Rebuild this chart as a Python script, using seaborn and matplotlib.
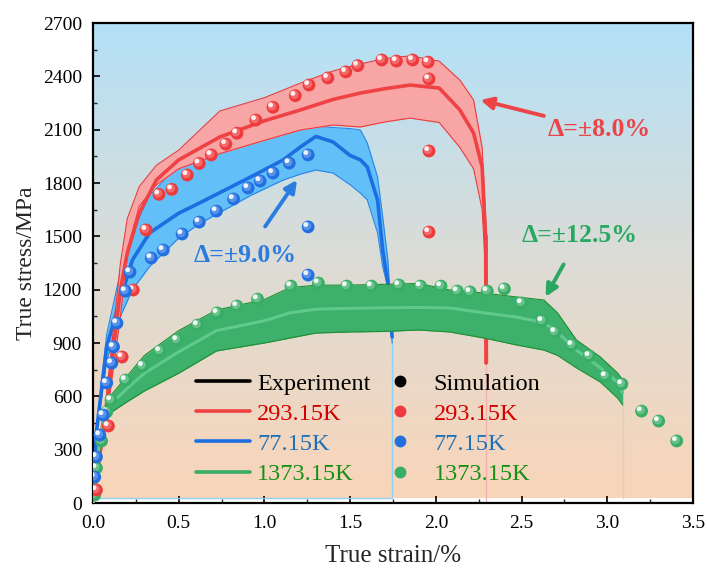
import numpy as np
import pandas as pd
import matplotlib
matplotlib.use("Agg")
import matplotlib.pyplot as plt
import seaborn as sns
from matplotlib.colors import LinearSegmentedColormap
from matplotlib.lines import Line2D
from matplotlib.transforms import ScaledTranslation

# ---------------- data ----------------
# 293.15K experiment (mean curve and band)
red_strain = [0, 0.08, 0.16, 0.2, 0.27, 0.37, 0.5, 0.74, 1.0, 1.21, 1.4, 1.56, 1.7, 1.85, 2.02, 2.14, 2.22, 2.27, 2.29, 2.295]
red_mean = [0, 550, 1200, 1406, 1631, 1817, 1930, 2059, 2150, 2211, 2270, 2306, 2330, 2351, 2334, 2211, 2081, 1890, 1500, 790]
red_upper = [0, 620, 1350, 1600, 1780, 1900, 1985, 2205, 2280, 2362, 2430, 2470, 2500, 2515, 2485, 2379, 2267, 2000, 1600, 790]
red_lower = [0, 480, 1050, 1423, 1670, 1790, 1880, 1965, 2040, 2098, 2126, 2115, 2143, 2165, 2140, 2000, 1880, 1650, 1300, 790]
red_tail_strain = [2.295, 2.295]
red_tail_stress = [790, 0]

# 77.15K experiment
blue_strain = [0, 0.02, 0.08, 0.16, 0.23, 0.33, 0.5, 0.62, 0.92, 1.11, 1.21, 1.3, 1.4, 1.5, 1.56, 1.6, 1.66, 1.69, 1.72, 1.745]
blue_mean = [0, 400, 880, 1150, 1367, 1519, 1630, 1687, 1834, 1930, 2003, 2062, 2031, 1955, 1930, 1890, 1704, 1423, 1237, 934]
blue_upper = [0, 420, 950, 1300, 1520, 1730, 1900, 1960, 2060, 2110, 2120, 2120, 2112, 2106, 2098, 2025, 1834, 1609, 1367, 1000]
blue_lower = [0, 380, 800, 1050, 1200, 1330, 1490, 1570, 1730, 1817, 1850, 1873, 1856, 1790, 1743, 1704, 1519, 1327, 1215, 900]
blue_tail_strain = [1.745, 1.745, 0]
blue_tail_stress = [934, 28, 28]

# 1373.15K experiment
green_strain = [0, 0.03, 0.06, 0.1, 0.2, 0.3, 0.5, 0.72, 1.0, 1.15, 1.3, 1.5, 1.7, 1.9, 2.08, 2.28, 2.47, 2.63, 2.71, 2.82, 2.96, 3.06, 3.09]
green_mean = [0, 285, 450, 553, 645, 730, 850, 970, 1025, 1070, 1090, 1095, 1098, 1100, 1097, 1070, 1046, 1015, 960, 860, 760, 680, 620]
green_upper = [0, 320, 500, 600, 715, 830, 970, 1085, 1145, 1212, 1225, 1226, 1230, 1235, 1198, 1181, 1159, 1142, 1069, 917, 821, 731, 692]
green_lower = [0, 250, 400, 506, 570, 630, 730, 855, 900, 928, 956, 962, 965, 973, 962, 928, 889, 860, 830, 760, 680, 590, 551]
green_tail_strain = [3.09, 3.09]
green_tail_stress = [551, 28]

# Simulation points
red_sim_strain = [0.02, 0.09, 0.17, 0.235, 0.31, 0.385, 0.46, 0.55, 0.62, 0.69, 0.775, 0.84, 0.95, 1.05, 1.18, 1.26, 1.37, 1.475, 1.545,
                  1.685, 1.77, 1.865, 1.955, 1.96, 1.96, 1.96]
red_sim_stress = [73, 433, 821, 1198, 1536, 1736, 1764, 1845, 1910, 1958, 2019, 2080, 2154, 2226, 2291, 2351, 2391, 2425, 2460,
                  2492, 2486, 2492, 2480, 2385, 1980, 1524]
blue_sim_strain = [0.01, 0.02, 0.04, 0.06, 0.08, 0.11, 0.12, 0.14, 0.19, 0.216, 0.34, 0.41, 0.52, 0.62, 0.72, 0.82, 0.905, 0.975,
                   1.05, 1.145, 1.255, 1.255, 1.255]
blue_sim_stress = [146, 259, 382, 495, 675, 787, 878, 1012, 1192, 1299, 1378, 1423, 1513, 1580, 1642, 1710, 1772, 1811,
                   1856, 1912, 1958, 1553, 1282]
green_sim_strain = [0.01, 0.02, 0.05, 0.08, 0.105, 0.19, 0.29, 0.39, 0.49, 0.61, 0.725, 0.84, 0.96, 1.155, 1.315, 1.48, 1.625,
                    1.785, 1.91, 2.03, 2.125, 2.2, 2.3, 2.4, 2.5, 2.62, 2.695, 2.795, 2.895, 2.99, 3.085, 3.2, 3.3, 3.405]
green_sim_stress = [45, 197, 349, 512, 579, 692, 771, 855, 917, 1001, 1069, 1108, 1147, 1220, 1237, 1220, 1220,
                    1226, 1220, 1220, 1192, 1187, 1192, 1204, 1125, 1024, 962, 889, 827, 714, 669, 517, 461, 349]

x_ticks = [0.0, 0.5, 1.0, 1.5, 2.0, 2.5, 3.0, 3.5]
y_ticks = [0, 300, 600, 900, 1200, 1500, 1800, 2100, 2400, 2700]
legend_lines = ["Experiment", "293.15K", "77.15K", "1373.15K"]
legend_points = ["Simulation", "293.15K", "77.15K", "1373.15K"]
annotations = ["Δ=±8.0%", "Δ=±9.0%", "Δ=±12.5%"]

# ---------------- styling ----------------
sns.set_theme(style="ticks")
plt.rcParams['font.family'] = ['Liberation Serif', 'DejaVu Serif']
plt.rcParams['axes.unicode_minus'] = False

RED_LINE, RED_FILL, RED_EDGE = "#ef4244", "#f8a5a6", "#ea3b3d"
BLUE_LINE, BLUE_FILL, BLUE_EDGE = "#1d6ee0", "#63bff7", "#2a86e6"
GREEN_LINE, GREEN_FILL, GREEN_EDGE = "#5fca8c", "#3db06c", "#1e9030"
RED_SPH, BLUE_SPH, GREEN_SPH = "#ee3a3c", "#2270e0", "#38ad66"

fig = plt.figure(figsize=(7.07, 5.69), dpi=100)
ax = fig.add_axes([93 / 707, 66 / 569, 600 / 707, 480 / 569])

# gradient background
bg = LinearSegmentedColormap.from_list("bg", ["#f9d5b8", "#dcdcd6", "#b3e1f8"])
grad = np.linspace(0, 1, 256).reshape(-1, 1)
ax.imshow(grad, extent=[0, 3.5, 28, 2700], aspect='auto', cmap=bg, origin='lower', zorder=0)


def band(x, lo, hi, fill, edge, z):
    ax.fill_between(x, lo, hi, color=fill, lw=0, zorder=z)
    ax.plot(x, hi, color=edge, lw=0.8, zorder=z + 0.1)
    ax.plot(x, lo, color=edge, lw=0.8, zorder=z + 0.1)


def mean_line(x, y, color, z, lw=2.6):
    df = pd.DataFrame({"strain": x, "stress": y})
    sns.lineplot(data=df, x="strain", y="stress", color=color, lw=lw, sort=False,
                 estimator=None, ax=ax, zorder=z, legend=False)


# tails (thin lines returning to the baseline)
ax.plot(blue_tail_strain, blue_tail_stress, color="#8fd0f5", lw=1.0, zorder=1)
ax.plot(red_tail_strain, red_tail_stress, color="#f4b0b0", lw=1.0, zorder=1)
ax.plot(green_tail_strain, green_tail_stress, color="#d8cfc0", lw=1.0, zorder=1)

band(blue_strain, blue_lower, blue_upper, BLUE_FILL, BLUE_EDGE, 2)
mean_line(blue_strain, blue_mean, BLUE_LINE, 2.5)
band(red_strain, red_lower, red_upper, RED_FILL, RED_EDGE, 3)
mean_line(red_strain, red_mean, RED_LINE, 3.5)
# thick drop of red curve below the band end
ax.plot(red_tail_strain, [red_mean[-2], red_tail_stress[0]], color=RED_LINE, lw=2.6, zorder=3.5)
band(green_strain, green_lower, green_upper, GREEN_FILL, GREEN_EDGE, 4)
mean_line(green_strain, green_mean, GREEN_LINE, 4.5, lw=2.2)


def spheres(x, y, color, s=85, z=10):
    df = pd.DataFrame({"strain": x, "stress": y})
    sns.scatterplot(data=df, x="strain", y="stress", color=color, s=s, edgecolor="none",
                    ax=ax, zorder=z, legend=False)
    off1 = ScaledTranslation(-0.8 / 72, 0.8 / 72, fig.dpi_scale_trans)
    ax.scatter(x, y, s=s * 0.45, color="white", alpha=0.25, edgecolors="none",
               transform=ax.transData + off1, zorder=z + 0.1)
    off2 = ScaledTranslation(-1.7 / 72, 1.7 / 72, fig.dpi_scale_trans)
    ax.scatter(x, y, s=s * 0.14, color="white", alpha=0.9, edgecolors="none",
               transform=ax.transData + off2, zorder=z + 0.2)


spheres(green_sim_strain, green_sim_stress, GREEN_SPH, z=10)
spheres(red_sim_strain, red_sim_stress, RED_SPH, z=11)
spheres(blue_sim_strain, blue_sim_stress, BLUE_SPH, z=12)

# annotations
ax.annotate(annotations[0], xy=(2.26, 2267), xytext=(2.95, 2100), color="#ec4446",
            fontsize=18.5, fontweight="bold", ha="center", va="center", zorder=20,
            arrowprops=dict(arrowstyle="-|>", color="#ec4446", lw=2.8, mutation_scale=18,
                            shrinkA=52, shrinkB=0))
ax.annotate(annotations[1], xy=(1.19, 1817), xytext=(0.89, 1395), color="#2a7ce0",
            fontsize=18.5, fontweight="bold", ha="center", va="center", zorder=20,
            arrowprops=dict(arrowstyle="-|>", color="#2a7ce0", lw=2.8, mutation_scale=18,
                            shrinkA=12, shrinkB=0))
ax.annotate(annotations[2], xy=(2.64, 1159), xytext=(2.84, 1507), color="#2aa862",
            fontsize=18.5, fontweight="bold", ha="center", va="center", zorder=20,
            arrowprops=dict(arrowstyle="-|>", color="#2aa862", lw=2.8, mutation_scale=18,
                            shrinkA=12, shrinkB=0))

# axes
ax.set_xlim(0, 3.5)
ax.set_ylim(0, 2700)
ax.set_xticks(x_ticks)
ax.set_xticklabels([f"{v:.1f}" for v in x_ticks])
ax.set_yticks(y_ticks)
ax.set_yticklabels([str(v) for v in y_ticks])
ax.set_xticks(np.arange(0.25, 3.5, 0.5), minor=True)
ax.set_yticks(np.arange(150, 2700, 300), minor=True)
ax.tick_params(which="major", direction="in", length=5, width=1.2, labelsize=14, colors="black")
ax.tick_params(axis="x", which="major", pad=9)
ax.tick_params(axis="y", which="major", pad=8)
ax.tick_params(which="minor", direction="in", length=3, width=1.0)
for side in ["left", "bottom", "right", "top"]:
    ax.spines[side].set_color("black")
    ax.spines[side].set_linewidth(1.6)
ax.set_xlabel("True strain/%", fontsize=18)
ax.set_ylabel("True stress/MPa", fontsize=17)
ax.xaxis.set_label_coords(0.5, -0.088)
ax.yaxis.set_label_coords(-0.093, 0.5)

# legend
handles = [
    Line2D([], [], color="black", lw=2.6),
    Line2D([], [], color=RED_LINE, lw=2.6),
    Line2D([], [], color=BLUE_LINE, lw=2.6),
    Line2D([], [], color=GREEN_SPH, lw=2.6),
    Line2D([], [], color="black", marker="o", ls="none", markersize=7.5),
    Line2D([], [], color=RED_SPH, marker="o", ls="none", markersize=7.5),
    Line2D([], [], color=BLUE_SPH, marker="o", ls="none", markersize=7.5),
    Line2D([], [], color=GREEN_SPH, marker="o", ls="none", markersize=7.5),
]
labels = legend_lines + legend_points
leg = ax.legend(handles, labels, ncol=2, loc="upper left", bbox_to_anchor=(0.172, 0.271),
                frameon=False, fontsize=17.5, handlelength=2.2, handletextpad=0.3,
                columnspacing=0.1, labelspacing=0.33, borderpad=0, borderaxespad=0)
leg.set_zorder(30)
text_colors = ["black", "#d40000", "#1f70b8", "#159015", "black", "#d40000", "#1f70b8", "#159015"]
for t, c in zip(leg.get_texts(), text_colors):
    t.set_color(c)

fig.savefig("out.png", dpi=100)
